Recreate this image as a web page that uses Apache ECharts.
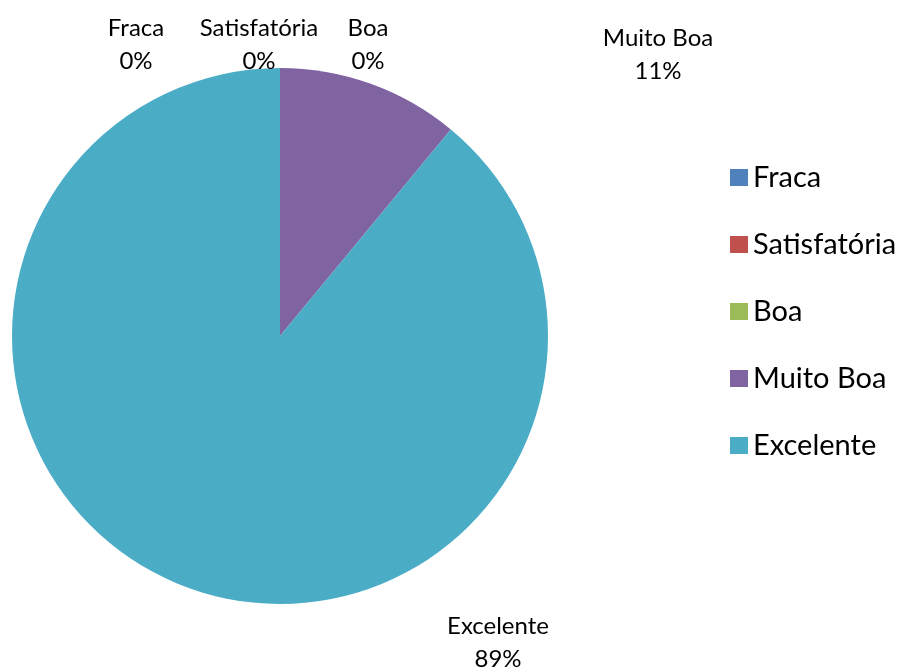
<!DOCTYPE html>
<html>
<head>
<meta charset="utf-8">
<style>
  html, body { margin: 0; padding: 0; background: #fff; }
  #chart { width: 902px; height: 668px; }
</style>
<script src="https://cdn.jsdelivr.net/npm/echarts@6/dist/echarts.min.js"></script>
</head>
<body>
<div id="chart"></div>
<script>
// dados do gráfico
const categories = ['Fraca', 'Satisfatória', 'Boa', 'Muito Boa', 'Excelente'];
const values = [0, 0, 0, 11, 89];
const colors = ['#4F81BD', '#C0504D', '#9BBB59', '#8064A2', '#4BACC6'];

// posição dos rótulos (centro do texto)
const labelPos = [[136, 45], [259, 45], [368, 45], [658, 55], [498, 643]];

const chart = echarts.init(document.getElementById('chart'));

const option = {
  animation: false,
  color: colors,
  legend: {
    orient: 'vertical',
    left: 725,
    top: 158,
    itemWidth: 18,
    itemHeight: 17,
    itemGap: 38,
    icon: 'rect',
    data: categories,
    textStyle: {
      fontFamily: 'Lato',
      fontSize: 29,
      lineHeight: 26,
      color: '#000',
      padding: [0, 0, 0, 0]
    }
  },
  series: [
    {
      type: 'pie',
      center: [280, 336],
      radius: 268,
      startAngle: 90,
      clockwise: true,
      avoidLabelOverlap: false,
      percentPrecision: 0,
      itemStyle: { borderWidth: 0 },
      label: {
        show: true,
        formatter: '{b}\n{d}%',
        fontFamily: 'Lato',
        fontSize: 24,
        lineHeight: 33,
        color: '#000',
        align: 'center'
      },
      labelLine: { show: false },
      labelLayout: function (params) {
        const p = labelPos[params.dataIndex];
        return { x: p[0], y: p[1], align: 'center', verticalAlign: 'middle' };
      },
      emphasis: { disabled: true },
      data: categories.map((c, i) => ({ name: c, value: values[i] }))
    }
  ]
};

chart.setOption(option);
</script>
</body>
</html>
